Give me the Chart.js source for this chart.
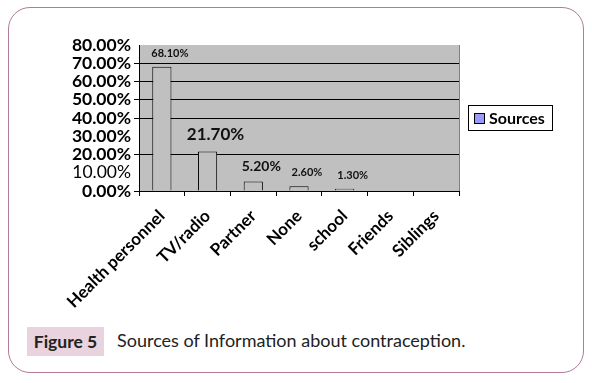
<!DOCTYPE html>
<html>
<head>
<meta charset="utf-8">
<script src="https://cdn.jsdelivr.net/npm/chart.js@4/dist/chart.umd.min.js"></script>
<style>
  html, body { margin: 0; padding: 0; background: #fff; }
  body { width: 592px; height: 383px; position: relative; overflow: hidden; font-family: Lato, 'Open Sans', sans-serif; }
  .frame { position: absolute; left: 8px; top: 7px; width: 574px; height: 364px; border: 1px solid #b07a98; border-radius: 22px; }
  .wrap { position: absolute; left: 0; top: 0; width: 592px; height: 320px; }
  .fig { position: absolute; left: 27px; top: 327px; width: 77px; height: 29px; background: #e8d3df; color: #222; font-weight: bold; font-size: 17.5px; line-height: 29px; text-align: center; }
  .cap { position: absolute; left: 117px; top: 326px; height: 29px; line-height: 29px; font-size: 18px; color: #222; }
</style>
</head>
<body>
<div class="frame"></div>
<div class="wrap"><canvas id="chart"></canvas></div>
<div class="fig">Figure 5</div>
<div class="cap">Sources of Information about contraception.</div>
<script>
const categories = ['Health personnel', 'TV/radio', 'Partner', 'None', 'school', 'Friends', 'Siblings'];
const sources = [68.1, 21.7, 5.2, 2.6, 1.3, null, null];
const labelSizes = [11, 17, 14, 11, 11, 11, 11];

const plotBg = {
  id: 'plotBg',
  beforeDraw(chart) {
    const a = chart.chartArea;
    const ctx = chart.ctx;
    ctx.save();
    ctx.fillStyle = '#c0c0c0';
    ctx.fillRect(a.left, a.top, a.right - a.left, a.bottom - a.top);
    ctx.strokeStyle = '#808080';
    ctx.lineWidth = 1;
    ctx.beginPath();
    ctx.moveTo(a.right + 0.5, a.top);
    ctx.lineTo(a.right + 0.5, a.bottom);
    ctx.stroke();
    ctx.restore();
  }
};

const valueLabels = {
  id: 'valueLabels',
  afterDatasetsDraw(chart) {
    const ctx = chart.ctx;
    const meta = chart.getDatasetMeta(0);
    ctx.save();
    ctx.fillStyle = '#111';
    ctx.textAlign = 'center';
    ctx.textBaseline = 'bottom';
    meta.data.forEach((bar, i) => {
      const v = sources[i];
      if (v === null) return;
      ctx.font = 'bold ' + labelSizes[i] + 'px Lato';
      ctx.fillText(v.toFixed(2) + '%', bar.x + 8, bar.y - 8);
    });
    ctx.restore();
  }
};

const boxLegend = {
  id: 'boxLegend',
  afterDraw(chart) {
    const ctx = chart.ctx;
    const a = chart.chartArea;
    const x = a.right + 9, y = 105;
    ctx.save();
    ctx.strokeStyle = '#000';
    ctx.lineWidth = 1;
    ctx.strokeRect(x + 0.5, y + 0.5, 84, 25);
    ctx.fillStyle = '#9999ff';
    ctx.fillRect(x + 6, y + 8, 10, 10);
    ctx.strokeRect(x + 6.5, y + 8.5, 10, 10);
    ctx.fillStyle = '#000';
    ctx.font = 'bold 16px Lato';
    ctx.textBaseline = 'middle';
    ctx.fillText(chart.data.datasets[0].label, x + 21, y + 13.5);
    ctx.restore();
  }
};

new Chart(document.getElementById('chart'), {
  type: 'bar',
  data: {
    labels: categories,
    datasets: [{
      label: 'Sources',
      data: sources,
      backgroundColor: '#c0c0c0',
      borderColor: '#000',
      borderWidth: 1,
      barPercentage: 0.42,
      categoryPercentage: 1
    }]
  },
  options: {
    responsive: true,
    maintainAspectRatio: false,
    animation: false,
    layout: { padding: { left: 59, top: 45, right: 133, bottom: 9 } },
    plugins: { legend: { display: false }, tooltip: { enabled: false } },
    scales: {
      x: {
        afterFit(scale) { scale.height = 120; },
        grid: { offset: true, drawOnChartArea: false, tickLength: 5, color: '#000' },
        border: { color: '#000' },
        ticks: {
          color: '#000',
          minRotation: 45,
          maxRotation: 45,
          autoSkip: false,
          padding: 10,
          font: { family: 'Lato', size: 17, weight: 'bold' }
        }
      },
      y: {
        min: 0,
        max: 80,
        afterFit(scale) { scale.width = 80; },
        grid: {
          tickLength: 5,
          color: ctx => (ctx.tick && [10, 30, 80].includes(ctx.tick.value)) ? 'rgba(0,0,0,0)' : '#000'
        },
        border: { color: '#000' },
        ticks: {
          color: '#000',
          stepSize: 10,
          autoSkip: false,
          padding: 3,
          callback: v => v.toFixed(2) + '%',
          font: ctx => ({ family: 'Lato', size: 17.5, weight: (ctx.tick && ctx.tick.value === 10) ? 'normal' : 'bold' })
        }
      }
    }
  },
  plugins: [plotBg, valueLabels, boxLegend]
});
</script>
</body>
</html>
